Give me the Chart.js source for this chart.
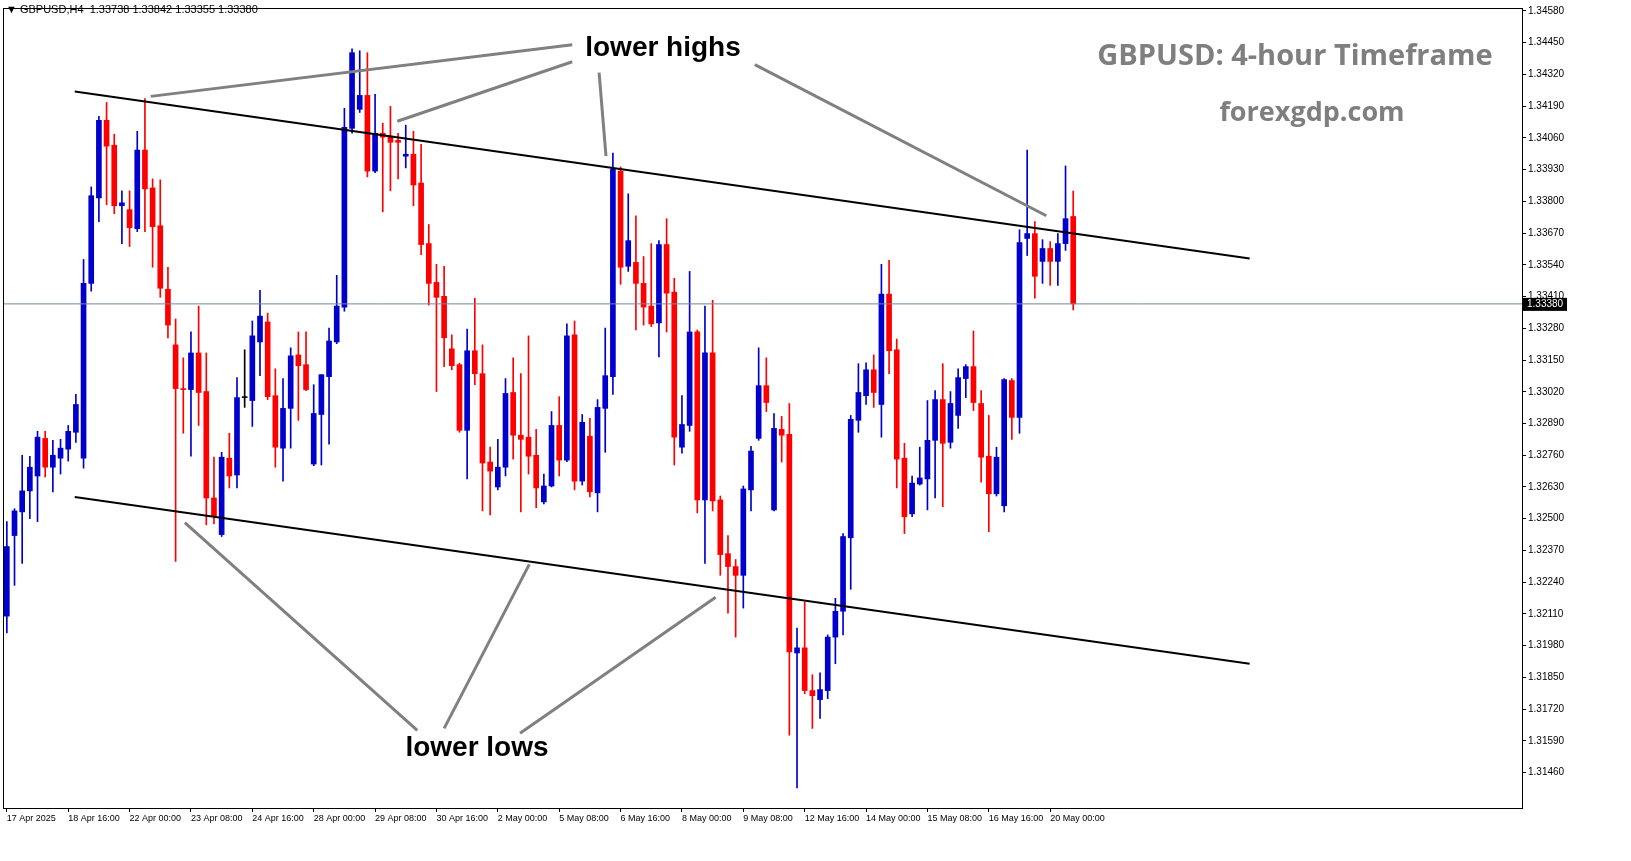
<!DOCTYPE html>
<html><head><meta charset="utf-8">
<script src="https://cdn.jsdelivr.net/npm/chart.js@4.4.1/dist/chart.umd.min.js"></script>
<style>html,body{margin:0;padding:0;background:#fff}canvas{display:block}</style>
</head><body>
<canvas id="c" width="1631" height="861"></canvas>
<script>
const opens=[1.32101,1.32431,1.32528,1.32614,1.32675,1.32829,1.32711,1.32748,1.32785,1.32854,
1.32748,1.33464,1.33814,1.34132,1.34030,1.33782,1.33766,1.33688,1.34010,1.33855,
1.33700,1.33440,1.33212,1.33033,1.33029,1.33179,1.33021,1.32585,1.32435,1.32748,
1.32679,1.32996,1.32984,1.33224,1.33306,1.33004,1.32789,1.32952,1.33171,1.33131,
1.32724,1.32927,1.33082,1.33224,1.33367,1.34099,1.34177,1.34234,1.33924,1.34079,
1.34067,1.34050,1.33985,1.33993,1.33875,1.33627,1.33468,1.33411,1.33196,1.33131,
1.32862,1.33188,1.33094,1.32732,1.32630,1.32711,1.33017,1.32842,1.32834,1.32760,
1.32569,1.32634,1.32882,1.32740,1.33253,1.32654,1.32838,1.32606,1.32952,1.33082,
1.33924,1.33534,1.33550,1.33464,1.33371,1.33302,1.33623,1.33428,1.32793,1.32882,
1.33265,1.32577,1.33179,1.32577,1.32357,1.32304,1.32268,1.32618,1.32829,1.33045,
1.32536,1.32866,1.32846,1.31950,1.31971,1.31796,1.31759,1.31796,1.32015,1.32121,
1.32422,1.32903,1.33004,1.33110,1.32968,1.33420,1.33192,1.32748,1.32520,1.32642,
1.32663,1.32821,1.32988,1.32813,1.32923,1.33074,1.33123,1.32972,1.32756,1.32602,
1.32553,1.33066,1.32915,1.33648,1.33668,1.33554,1.33607,1.33554,1.33627,1.33738];
const highs=[1.32488,1.32541,1.32760,1.32756,1.32858,1.32858,1.32821,1.32825,1.32882,1.33009,
1.33562,1.33859,1.34148,1.34205,1.34075,1.33843,1.33843,1.34087,1.34221,1.33892,
1.33888,1.33530,1.33318,1.33159,1.33265,1.33371,1.33179,1.32752,1.32772,1.32850,
1.33078,1.33192,1.33310,1.33436,1.33342,1.33114,1.33074,1.33200,1.33265,1.33265,
1.33049,1.33090,1.33281,1.33497,1.34181,1.34425,1.34417,1.34409,1.34238,1.34120,
1.34189,1.34079,1.34112,1.34087,1.34034,1.33705,1.33542,1.33534,1.33253,1.33137,
1.33277,1.33403,1.33212,1.32793,1.32825,1.33074,1.33159,1.33094,1.33249,1.32866,
1.32683,1.32939,1.33000,1.33298,1.33310,1.32927,1.32911,1.32988,1.33281,1.33998,
1.33941,1.33831,1.33741,1.33574,1.33627,1.33639,1.33729,1.33485,1.33004,1.33513,
1.33273,1.33371,1.33395,1.32593,1.32431,1.32333,1.32634,1.32797,1.33200,1.33159,
1.32931,1.32919,1.32972,1.32052,1.32158,1.31861,1.31869,1.32024,1.32174,1.32439,
1.32923,1.33135,1.33139,1.33171,1.33542,1.33558,1.33236,1.32809,1.32675,1.32793,
1.32984,1.33025,1.33135,1.33021,1.33114,1.33131,1.33269,1.33025,1.32923,1.32793,
1.33074,1.33074,1.33684,1.34010,1.33717,1.33643,1.33635,1.33668,1.33945,1.33842];
const lows=[1.32032,1.32227,1.32317,1.32500,1.32488,1.32671,1.32610,1.32683,1.32736,1.32813,
1.32707,1.33432,1.33717,1.33786,1.33749,1.33627,1.33615,1.33676,1.33676,1.33530,
1.33407,1.33241,1.32325,1.32850,1.32756,1.32882,1.32475,1.32479,1.32427,1.32626,
1.32626,1.32956,1.32878,1.33086,1.32988,1.32711,1.32654,1.32789,1.32903,1.33025,
1.32717,1.32720,1.32805,1.33217,1.33350,1.34079,1.34164,1.33900,1.33917,1.33757,
1.33843,1.33892,1.33937,1.33782,1.33582,1.33375,1.33021,1.33123,1.33110,1.32854,
1.32663,1.33049,1.32532,1.32516,1.32618,1.32675,1.32744,1.32528,1.32683,1.32545,
1.32561,1.32630,1.32675,1.32734,1.32618,1.32638,1.32589,1.32528,1.32772,1.33009,
1.33460,1.33513,1.33273,1.33293,1.33287,1.33163,1.33265,1.32720,1.32768,1.32858,
1.32524,1.32317,1.32532,1.32268,1.32113,1.32015,1.32134,1.32532,1.32821,1.32939,
1.32532,1.32732,1.31613,1.31397,1.31783,1.31641,1.31682,1.31763,1.31906,1.32024,
1.32211,1.32854,1.32968,1.32956,1.32834,1.33094,1.32626,1.32439,1.32508,1.32638,
1.32536,1.32585,1.32549,1.32789,1.32870,1.32996,1.32943,1.32650,1.32447,1.32593,
1.32528,1.32825,1.32850,1.33578,1.33403,1.33464,1.33456,1.33456,1.33599,1.33355];
const closes=[1.32386,1.32532,1.32614,1.32711,1.32834,1.32711,1.32760,1.32789,1.32858,1.32968,
1.33464,1.33823,1.34132,1.34026,1.33782,1.33794,1.33692,1.34010,1.33851,1.33696,
1.33444,1.33293,1.33033,1.33029,1.33179,1.33017,1.32585,1.32512,1.32752,1.32675,
1.32996,1.32996,1.33249,1.33330,1.33000,1.32793,1.32952,1.33167,1.33127,1.33029,
1.32931,1.33090,1.33228,1.33371,1.34103,1.34409,1.34234,1.33924,1.34079,1.34063,
1.34042,1.34042,1.33993,1.33867,1.33623,1.33464,1.33407,1.33241,1.33127,1.32862,
1.33188,1.33094,1.32728,1.32695,1.32711,1.33013,1.32842,1.32825,1.32756,1.32626,
1.32634,1.32882,1.32740,1.33249,1.32654,1.32895,1.32610,1.32956,1.33086,1.33932,
1.33530,1.33639,1.33464,1.33367,1.33298,1.33623,1.33424,1.32834,1.32886,1.33265,
1.32577,1.33179,1.32573,1.32353,1.32304,1.32268,1.32622,1.32777,1.33045,1.32976,
1.32870,1.32842,1.31954,1.31971,1.31796,1.31775,1.31800,1.32015,1.32121,1.32427,
1.32907,1.33017,1.33110,1.33017,1.33420,1.33188,1.32744,1.32508,1.32646,1.32667,
1.32821,1.32988,1.32809,1.32972,1.33078,1.33123,1.32976,1.32752,1.32602,1.32752,
1.33070,1.32915,1.33631,1.33668,1.33493,1.33607,1.33554,1.33627,1.33729,1.33380];
const dateTicks=["17 Apr 2025","18 Apr 16:00","22 Apr 00:00","23 Apr 08:00","24 Apr 16:00","28 Apr 00:00","29 Apr 08:00","30 Apr 16:00","2 May 00:00","5 May 08:00","6 May 16:00","8 May 00:00","9 May 08:00","12 May 16:00","14 May 00:00","15 May 08:00","16 May 16:00","20 May 00:00"];
const priceTicks=[1.31460,1.31590,1.31720,1.31850,1.31980,1.32110,1.32240,1.32370,1.32500,1.32630,1.32760,1.32890,1.33020,1.33150,1.33280,1.33410,1.33540,1.33670,1.33800,1.33930,1.34060,1.34190,1.34320,1.34450,1.34580];
const currentPrice=1.33380;
const upperTrend=[{x:8.85,y:1.34250},{x:162,y:1.33566}];
const lowerTrend=[{x:8.85,y:1.32589},{x:162,y:1.31906}];
const pointerLines=[
 [{x:18.75,y:1.34230},{x:73.7,y:1.34441}],
 [{x:50.9,y:1.34128},{x:73.7,y:1.34372}],
 [{x:78.1,y:1.33985},{x:77.2,y:1.34327}],
 [{x:97.5,y:1.34360},{x:135.5,y:1.33741}],
 [{x:23.2,y:1.32484},{x:53.5,y:1.31633}],
 [{x:57.0,y:1.31641},{x:68.1,y:1.32313}],
 [{x:66.9,y:1.31621},{x:92.4,y:1.32178}]];
const SLOTS=198, TICK_STEP=8;
const labels=Array.from({length:SLOTS},(_,i)=> (i%TICK_STEP===0 && dateTicks[i/TICK_STEP]) ? dateTicks[i/TICK_STEP] : '');
const colors=opens.map((o,i)=> closes[i]>o ? '#0000CD' : (closes[i]<o ? '#FF0000' : '#000000'));
const lineDs=(d,c,w)=>({type:'line',xAxisID:'x2',data:d,borderColor:c,borderWidth:w,pointRadius:0,fill:false,tension:0});
const datasets=[
 {data:lows.map((l,i)=>[l,highs[i]]),backgroundColor:colors,barThickness:1,grouped:false,order:3},
 {data:opens.map((o,i)=>[o,closes[i]]),backgroundColor:colors,barThickness:5,grouped:false,minBarLength:1,order:2},
 lineDs([{x:-0.5,y:currentPrice},{x:SLOTS-0.5,y:currentPrice}],'#6f88a0',1),
 lineDs(upperTrend,'#000',2), lineDs(lowerTrend,'#000',2),
 ...pointerLines.map(p=>lineDs(p,'#808080',3))
];
const deco={id:'deco',afterDraw(ch){
 const c=ch.ctx,a=ch.chartArea;
 c.save();
 c.strokeStyle='#000';c.lineWidth=1;c.strokeRect(a.left+0.5,a.top+0.5,a.right-a.left,a.bottom-a.top);
 c.fillStyle='#000';c.font='11px "Liberation Sans", Arial';c.textBaseline='middle';c.textAlign='left';
 c.fillText('▼ GBPUSD,H4  1.33738 1.33842 1.33355 1.33380',6,10);
 c.font='bold 28px "Liberation Sans", Arial';c.textAlign='center';
 c.fillText('lower highs',663,48);c.fillText('lower lows',477,748);
 c.fillStyle='#7f7f7f';c.font='bold 29px "Open Sans", "Liberation Sans"';
 c.fillText('GBPUSD: 4-hour Timeframe',1295,57);
 c.font='bold 27px "Open Sans", "Liberation Sans"';c.fillText('forexgdp.com',1312,113);
 const py=ch.scales.y.getPixelForValue(currentPrice);
 c.fillStyle='#000';c.fillRect(a.right+1,py-6,44,13);
 c.fillStyle='#fff';c.font='10px "Liberation Sans", Arial';c.textAlign='left';
 c.fillText(currentPrice.toFixed(5),a.right+5,py+0.5);
 c.restore();}};
new Chart(document.getElementById('c'),{type:'bar',data:{labels,datasets},
 options:{responsive:false,animation:false,devicePixelRatio:1,
 layout:{padding:{left:3,top:3,right:0,bottom:0}},
 plugins:{legend:{display:false},tooltip:{enabled:false}},
 scales:{
  x:{type:'category',offset:true,
   grid:{display:true,drawOnChartArea:false,offset:false,tickLength:4,color:'#000'},border:{color:'#000'},
   afterBuildTicks(s){s.ticks=s.ticks.filter(t=>labels[t.value]!=='');},
   afterFit(s){s.height=53;},
   ticks:{autoSkip:false,maxRotation:0,minRotation:0,align:'start',padding:1,color:'#000',font:{size:9,family:'"Liberation Sans", Arial'},callback:(v)=>labels[v]}},
  x2:{type:'linear',display:false,offset:false,grace:0,min:-0.5,max:SLOTS-0.5,ticks:{stepSize:1}},
  y:{position:'right',min:1.31315,max:1.34592,
   grid:{display:true,drawOnChartArea:false,tickLength:4,color:'#000'},border:{color:'#000'},
   afterBuildTicks(s){s.ticks=priceTicks.map(v=>({value:v}));},
   afterFit(s){s.width=109;},
   ticks:{padding:2,color:'#000',font:{size:10,family:'"Liberation Sans", Arial'},callback:v=>Number(v).toFixed(5)}}
 }},plugins:[deco]});
</script></body></html>
